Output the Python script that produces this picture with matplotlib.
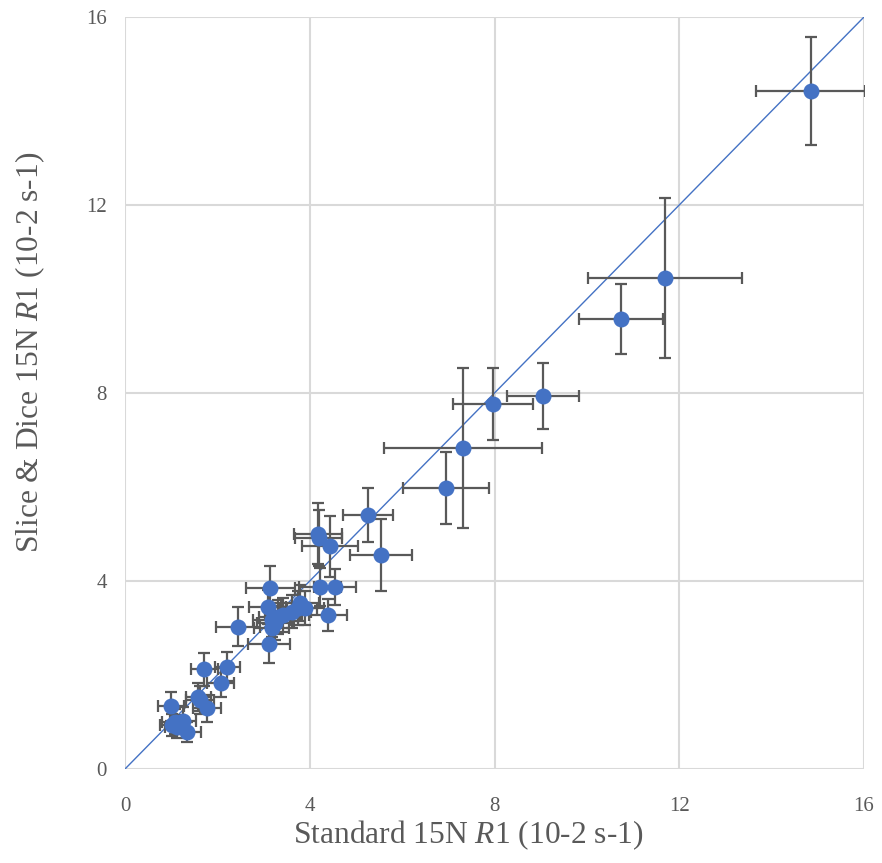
import matplotlib.pyplot as plt

plt.rcParams['font.family'] = ['Liberation Serif', 'DejaVu Serif']
plt.rcParams['mathtext.fontset'] = 'custom'
plt.rcParams['mathtext.rm'] = 'Liberation Serif'
plt.rcParams['mathtext.it'] = 'Liberation Serif:italic'

# standard R1 (x), slice & dice R1 (y) and their errors
std_r1 = [14.85, 11.69, 10.74, 9.05, 7.97, 7.32, 6.95, 5.26, 5.54,
          4.17, 4.19, 4.44, 3.15, 4.22, 4.55, 3.09, 3.79, 3.90, 4.40,
          2.44, 3.12, 3.18, 3.32, 3.43, 3.61, 3.18, 3.25, 3.75,
          1.72, 2.21, 2.07, 1.00, 1.62, 1.77, 1.08, 1.26, 1.34, 1.01, 1.59, 1.12]
sd_r1 = [14.43, 10.45, 9.57, 7.94, 7.77, 6.83, 5.98, 5.40, 4.55,
         5.01, 4.91, 4.74, 3.86, 3.87, 3.87, 3.45, 3.53, 3.42, 3.28,
         3.03, 2.67, 3.17, 3.24, 3.28, 3.35, 2.99, 3.10, 3.43,
         2.12, 2.18, 1.84, 1.33, 1.47, 1.29, 1.01, 1.03, 0.79, 0.94, 1.54, 0.90]
std_err = [1.18, 1.67, 0.90, 0.79, 0.86, 1.71, 0.93, 0.54, 0.67,
           0.52, 0.50, 0.60, 0.54, 0.45, 0.45, 0.40, 0.42, 0.40, 0.41,
           0.48, 0.46, 0.40, 0.42, 0.40, 0.42, 0.38, 0.40, 0.40,
           0.29, 0.27, 0.30, 0.28, 0.30, 0.30, 0.28, 0.28, 0.30, 0.26, 0.28, 0.26]
sd_err = [1.15, 1.70, 0.75, 0.70, 0.77, 1.71, 0.77, 0.58, 0.76,
          0.65, 0.60, 0.65, 0.46, 0.40, 0.38, 0.36, 0.38, 0.36, 0.34,
          0.42, 0.42, 0.36, 0.36, 0.36, 0.36, 0.34, 0.36, 0.36,
          0.35, 0.30, 0.30, 0.30, 0.30, 0.28, 0.26, 0.28, 0.22, 0.24, 0.30, 0.24]

ticks = [0, 4, 8, 12, 16]

W, H = 882, 863
fig = plt.figure(figsize=(W / 100, H / 100), dpi=100)
ax = fig.add_axes([125 / W, 1 - 769 / H, 739 / W, 752 / H])

# y = x reference line
ax.plot([0, 16], [0, 16], color="#4472C4", lw=1, zorder=2)

ax.errorbar(std_r1, sd_r1, xerr=std_err, yerr=sd_err, fmt="none",
            ecolor="#595959", elinewidth=1.6, capsize=4.5, capthick=1.6, zorder=3)
ax.plot(std_r1, sd_r1, "o", color="#4472C4", markersize=11.5,
        markeredgewidth=0, zorder=4)

ax.set_xlim(0, 16)
ax.set_ylim(0, 16)
ax.set_xticks(ticks)
ax.set_yticks(ticks)
ax.grid(True, color="#d9d9d9", lw=1.5, zorder=0)
ax.set_axisbelow(True)
for s in ax.spines.values():
    s.set_visible(False)
ax.tick_params(length=0, labelsize=15, labelcolor="#595959")
ax.tick_params(axis="x", pad=20)
ax.tick_params(axis="y", pad=13)

# axis titles
fig.text(293 / W, 1 - 843 / H, "Standard 15N $\\it{R}$1 (10-2 s-1)", fontsize=22.7,
         color="#595959", ha="left", va="baseline")
fig.text(30 / W, 1 - 152 / H, "Slice & Dice 15N $\\it{R}$1 (10-2 s-1)", fontsize=22.7,
         color="#595959", ha="center", va="top", rotation=90)

plt.savefig("out.png", dpi=100)
